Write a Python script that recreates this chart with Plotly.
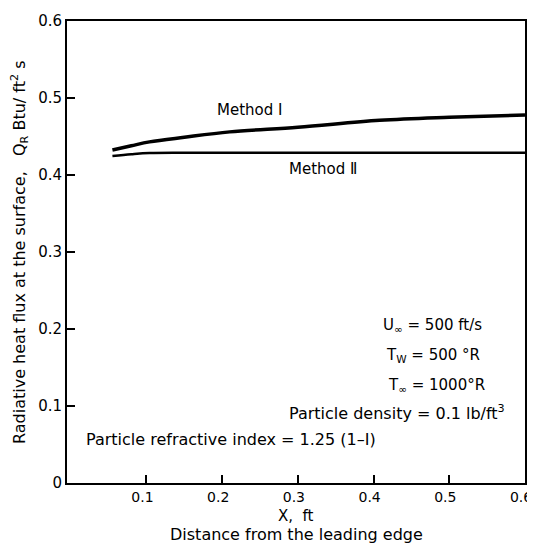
import plotly.graph_objects as go

# values
x_m1 = [0.055, 0.08, 0.104, 0.15, 0.21, 0.30, 0.408, 0.50, 0.60]
q_m1 = [0.4325, 0.438, 0.443, 0.449, 0.456, 0.462, 0.471, 0.475, 0.478]
x_m2 = [0.055, 0.08, 0.104, 0.15, 0.30, 0.45, 0.60]
q_m2 = [0.4247, 0.427, 0.4286, 0.429, 0.429, 0.429, 0.429]

x_ticks = [0.1, 0.2, 0.3, 0.4, 0.5, 0.6]
y_ticks = [0, 0.1, 0.2, 0.3, 0.4, 0.5, 0.6]
y_tick_text = ["0", "0.1", "0.2", "0.3", "0.4", "0.5", "0.6"]

FONT = "DejaVu Sans"

fig = go.Figure()

fig.add_trace(go.Scatter(
    x=x_m1, y=q_m1, mode="lines",
    line=dict(color="black", width=3.5, shape="spline"),
    name="Method I", hoverinfo="skip"
))
fig.add_trace(go.Scatter(
    x=x_m2, y=q_m2, mode="lines",
    line=dict(color="black", width=2.5, shape="spline"),
    name="Method II", hoverinfo="skip"
))

# labels and parameter block
annotations = [
    dict(x=0.236, y=0.485, text="Method \u2160", xanchor="center"),
    dict(x=0.333, y=0.408, text="Method \u2161", xanchor="center"),
    dict(x=0.478, y=0.205, text="U<sub>\u221e</sub> = 500 ft/s", xanchor="center"),
    dict(x=0.478, y=0.166, text="T<sub>W</sub> = 500 \u00b0R", xanchor="center"),
    dict(x=0.483, y=0.127, text="T<sub>\u221e</sub> = 1000\u00b0R", xanchor="center"),
    dict(x=0.286, y=0.091, text="Particle density = 0.1 lb/ft<sup>3</sup>", xanchor="left"),
    dict(x=0.018, y=0.056, text="Particle refractive index = 1.25 (1\u2013\u2160)", xanchor="left"),
]
for a in annotations:
    a.update(xref="x", yref="y", showarrow=False, yanchor="middle",
             font=dict(family=FONT, size=15, color="black"))
annotations[5]["font"]["size"] = 16
annotations[6]["font"]["size"] = 16

# axis titles placed by hand
annotations.append(dict(
    xref="paper", yref="paper", x=0, y=0.5, xshift=-48,
    xanchor="center", yanchor="middle", textangle=-90, showarrow=False,
    text="Radiative heat flux at the surface,   Q<sub>R</sub> Btu/ ft<sup>2</sup> s",
    font=dict(family=FONT, size=16, color="black"),
))
annotations.append(dict(
    xref="paper", yref="paper", x=0.5, y=0, yshift=-33,
    xanchor="center", yanchor="middle", showarrow=False,
    text="X,  ft", font=dict(family=FONT, size=15, color="black"),
))
annotations.append(dict(
    xref="paper", yref="paper", x=0.5, y=0, yshift=-51,
    xanchor="center", yanchor="middle", showarrow=False,
    text="Distance from the leading edge", font=dict(family=FONT, size=16, color="black"),
))

# the page body adds an 8px offset, margins account for it
fig.update_layout(
    width=535, height=546,
    margin=dict(l=59, r=18, t=13, b=71),
    plot_bgcolor="white", paper_bgcolor="white",
    showlegend=False,
    font=dict(family=FONT, size=15, color="black"),
    annotations=annotations,
    xaxis=dict(
        range=[-0.005, 0.6], tickvals=x_ticks, ticktext=[str(v) for v in x_ticks],
        ticks="inside", ticklen=8, tickwidth=1.5, tickcolor="black",
        showline=True, linecolor="black", linewidth=2, mirror=True,
        showgrid=False, zeroline=False, automargin=False,
        ticklabelshift=-4,
        tickfont=dict(family=FONT, size=14),
    ),
    yaxis=dict(
        range=[0, 0.6], tickvals=y_ticks, ticktext=y_tick_text,
        ticks="inside", ticklen=8, tickwidth=1.5, tickcolor="black",
        showline=True, linecolor="black", linewidth=2, mirror=True,
        showgrid=False, zeroline=False, automargin=False,
        tickfont=dict(family=FONT, size=15),
    ),
)

fig.write_html("out.html")
